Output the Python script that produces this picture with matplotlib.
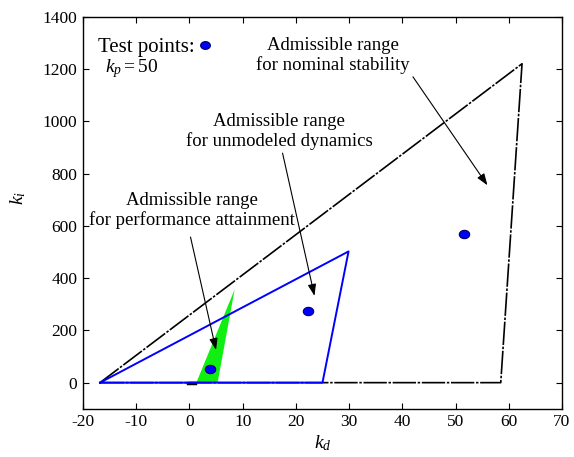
import matplotlib
matplotlib.use("Agg")
import matplotlib.pyplot as plt
from matplotlib.path import Path
import numpy as np

plt.rcParams['font.family'] = ['Liberation Serif', 'DejaVu Serif']
plt.rcParams['mathtext.fontset'] = 'custom'
plt.rcParams['mathtext.rm'] = 'Liberation Serif'
plt.rcParams['mathtext.it'] = 'Liberation Serif:italic'
plt.rcParams['axes.unicode_minus'] = False

# ---- data ----
nominal_kd = [-16.8, 62.5, 58.5, -16.8]
nominal_ki = [0, 1220, 0, 0]
unmodeled_kd = [-16.8, 29.9, 25.0, -16.8]
unmodeled_ki = [0, 502, 0, 0]
perf_kd = [1.3, 8.5, 5.3]
perf_ki = [0, 357, 0]
test_kd = [3.8, 22.2, 51.6]
test_ki = [52, 274, 569]
legend_pt = (3.0, 1292)
x_ticks = [-20, -10, 0, 10, 20, 30, 40, 50, 60, 70]
y_ticks = [0, 200, 400, 600, 800, 1000, 1200, 1400]

fig = plt.figure(figsize=(5.74, 4.57), dpi=100)
ax = fig.add_axes([0.1446, 0.1055, 0.8344, 0.858])

ax.fill(perf_kd, perf_ki, color='#11ee11', zorder=2, lw=0)
ax.plot(nominal_kd, nominal_ki, color='black', lw=1.2, linestyle=(0, (14, 1, 1.5, 1)), zorder=3)
ax.plot([-0.3, 1.1], [0, 0], color='black', lw=2.5, zorder=3)
ax.plot(unmodeled_kd, unmodeled_ki, color='#0000ff', lw=1.4, zorder=4)

t = np.linspace(0, 2*np.pi, 40)
ell = Path(np.column_stack([1.25*np.cos(t), np.sin(t)]), closed=True)
ax.plot(test_kd, test_ki, linestyle='none', marker=ell, ms=7.5,
        mfc='#0000ff', mec='#000060', mew=0.8, zorder=5)
ax.plot([legend_pt[0]], [legend_pt[1]], linestyle='none', marker=ell, ms=7,
        mfc='#0000ff', mec='#000060', mew=0.8, zorder=5)

fs = 13.5
ax.text(1.0, 1284, 'Test points:', ha='right', va='center', fontsize=15)
ax.text(-15.8, 1200, r'$k_p{=}\mathit{50}$', ha='left', va='center', fontsize=14)

ax.text(26.9, 1250, 'Admissible range\nfor nominal stability', ha='center', va='center',
        fontsize=fs, linespacing=1.15)
ax.text(16.9, 960, 'Admissible range\nfor unmodeled dynamics', ha='center', va='center',
        fontsize=fs, linespacing=1.15)
ax.text(0.5, 658, 'Admissible range\nfor performance attainment', ha='center', va='center',
        fontsize=fs, linespacing=1.15)

arrows = [((42.0, 1170), (56.0, 755)),
          ((17.5, 878), (23.5, 332)),
          ((0.2, 557), (5.0, 125))]
for (s, e) in arrows:
    ax.annotate('', xy=e, xytext=s,
                arrowprops=dict(arrowstyle='-|>,head_length=0.7,head_width=0.25',
                                color='black', lw=0.8, shrinkA=0, shrinkB=0),
                zorder=6)

ax.set_xlim(-20, 70)
ax.set_ylim(-100, 1400)
ax.set_xticks(x_ticks)
ax.set_yticks(y_ticks)
ax.tick_params(direction='in', top=True, right=True, length=4, width=0.8,
               labelsize=12.5, pad=4)
for sp in ax.spines.values():
    sp.set_linewidth(1.0)

ax.set_xlabel(r'$k_d$', fontsize=14)
ax.set_ylabel(r'$k_i$', fontsize=14)
ax.xaxis.set_label_coords(0.5, -0.062)
ax.yaxis.set_label_coords(-0.115, 0.537)

fig.savefig('out.png', dpi=100)
